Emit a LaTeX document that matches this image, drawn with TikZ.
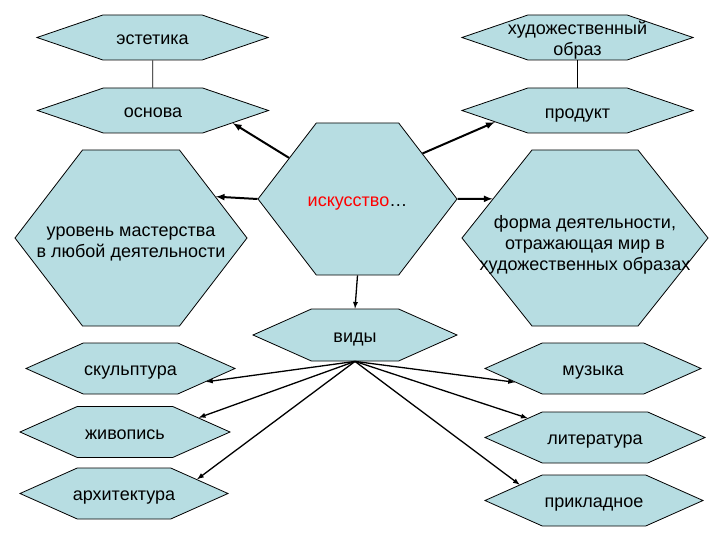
\documentclass[tikz,border=0pt]{standalone}
\usepackage{fontspec}
\setmainfont{Liberation Sans}
\usetikzlibrary{shapes.symbols}
\definecolor{hexfill}{RGB}{183,221,226}
\newcommand{\hexbox}[1]{\makebox[0pt]{\begin{tabular}{@{}c@{}}#1\end{tabular}}}

\begin{document}
\begin{tikzpicture}[x=1pt, y=-1pt,
		hexa/.style={signal, signal to=west and east, draw, line width=0.8pt, fill=hexfill, inner sep=0pt,
			text height=17pt, text depth=2pt, font=\fontsize{18}{21}\selectfont},
		smallhex/.style={hexa, minimum width=231pt, minimum height=45pt, signal pointer angle=37.7},
		lowhex/.style={hexa, minimum height=51pt, signal pointer angle=48},
		bighex/.style={hexa, minimum height=176pt, signal pointer angle=105},
		link/.style={->, >=latex, line width=2pt},
		thinlink/.style={->, >=latex, line width=1.3pt}]
		\useasboundingbox (0,0) rectangle (720,540);

		% верхний ряд
		\node[smallhex] (est) at (152.5, 37.5) {\hexbox{эстетика}};
		\node[smallhex] (osn) at (153, 110.5) {\hexbox{основа}};
		\node[smallhex, text height=17pt] (obraz) at (577.5, 37.5) {\hexbox{художественный\\образ}};
		\node[smallhex, text height=19pt] (prod) at (577.5, 110.5) {\hexbox{продукт}};

		% большие шестиугольники
		\node[bighex, minimum width=232pt, text height=20pt] (urov) at (131, 238) {\hexbox{уровень мастерства\\в любой деятельности}};
		\node[bighex, minimum width=199pt, minimum height=152pt] (isk) at (357.5, 199) {\hexbox{\textcolor{red}{искусство}…}};
		\node[bighex, minimum width=246pt, signal pointer angle=103, text height=25pt] (forma) at (585, 238) {\hexbox{форма деятельности,\\отражающая мир в\\художественных образах}};

		% виды искусства
		\node[lowhex, minimum width=204pt, minimum height=52pt] (vidy) at (355, 335) {\hexbox{виды}};
		\node[lowhex, minimum width=209pt] (skulp) at (130.5, 368.5) {\hexbox{скульптура}};
		\node[lowhex, minimum width=210pt] (zhiv) at (125, 432) {\hexbox{живопись}};
		\node[lowhex, minimum width=208pt] (arch) at (124, 493.5) {\hexbox{архитектура}};
		\node[lowhex, minimum width=216pt] (muz) at (593, 368.5) {\hexbox{музыка}};
		\node[lowhex, minimum width=220pt] (lit) at (595, 437.5) {\hexbox{литература}};
		\node[lowhex, minimum width=218pt] (prikl) at (594, 500.5) {\hexbox{прикладное}};

		\draw[line width=0.8pt] (est) -- (osn);
		\draw[line width=0.8pt] (obraz) -- (prod);

		\draw[link] (isk.149) -- (osn.-9);
		\draw[link] (isk.west) -- (urov.26);
		\draw[link] (isk.35) -- (prod.188);
		\draw[link] (isk.east) -- (forma.157);
		\draw[thinlink] (isk.south) -- (vidy.north);

		\draw[thinlink] (vidy.south) -- (skulp.-10.5);
		\draw[thinlink] (vidy.south) -- (zhiv.11);
		\draw[thinlink] (vidy.south) -- (arch.11);
		\draw[thinlink] (vidy.south) -- (muz.190);
		\draw[thinlink] (vidy.south) -- (lit.164);
		\draw[thinlink] (vidy.south) -- (prikl.168.5);

	\end{tikzpicture}
\end{document}
